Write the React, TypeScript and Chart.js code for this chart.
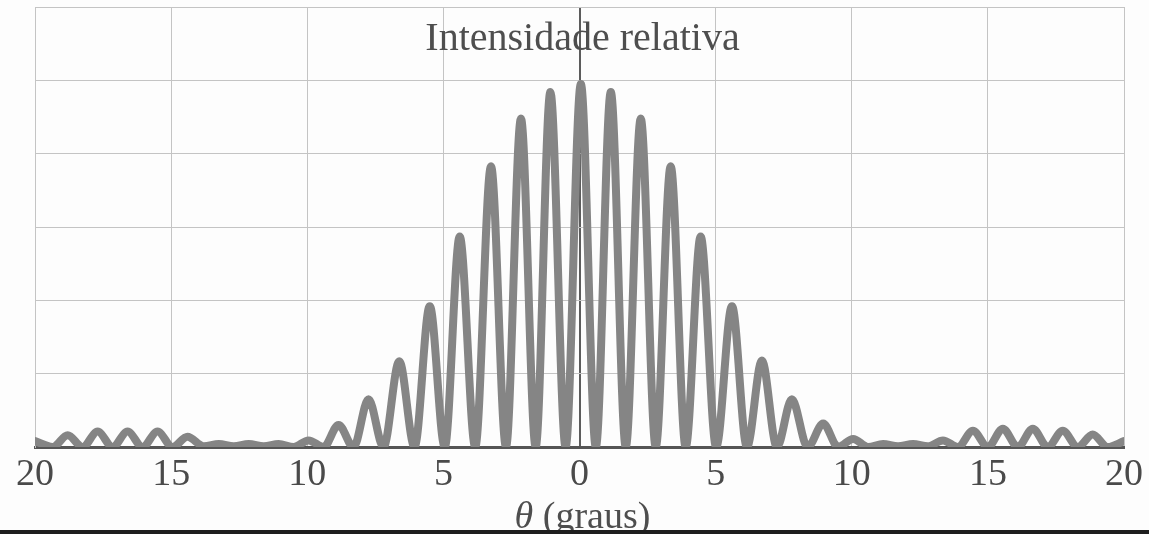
import { useEffect, useRef } from "react";
import { Chart, registerables } from "chart.js";

Chart.register(...registerables);

// Angle (degrees) and relative intensity: peaks and minima
const leftTheta = [
  -20, -19.35, -18.8, -18.25, -17.7, -17.15, -16.6, -16.05, -15.5, -14.95,
  -14.4, -13.8, -13.25, -12.7, -12.15, -11.6, -11.05, -10.5, -9.95, -9.4,
  -8.85, -8.3, -7.75, -7.2, -6.62, -6.06, -5.5, -4.95, -4.4, -3.83,
  -3.25, -2.7, -2.15, -1.61, -1.07, -0.51, 0.05,
];
const leftIntensity = [
  0.08, 0, 0.16, 0, 0.21, 0, 0.21, 0, 0.21, 0,
  0.14, 0.01, 0.04, 0.01, 0.04, 0.01, 0.04, 0, 0.09, 0,
  0.3, 0, 0.65, 0, 1.17, 0, 1.92, 0, 2.87, 0,
  3.83, 0, 4.48, 0, 4.84, 0, 4.95,
];
const rightTheta = [
  0.6, 1.15, 1.7, 2.25, 2.8, 3.35, 3.9, 4.45, 5.02, 5.6,
  6.15, 6.7, 7.25, 7.8, 8.38, 8.95, 9.5, 10.05, 10.6, 11.15,
  11.7, 12.25, 12.8, 13.35, 13.9, 14.45, 15.0, 15.55, 16.1, 16.65,
  17.2, 17.75, 18.3, 18.85, 19.4, 20,
];
const rightIntensity = [
  0, 4.84, 0, 4.48, 0, 3.83, 0, 2.87, 0, 1.92,
  0, 1.18, 0, 0.65, 0, 0.32, 0, 0.11, 0, 0.04,
  0.01, 0.04, 0.01, 0.09, 0, 0.22, 0, 0.25, 0, 0.25,
  0, 0.22, 0, 0.17, 0, 0.08,
];

const xTicks = [-20, -15, -10, -5, 0, 5, 10, 15, 20];
const yGridLevels = [0, 1, 2, 3, 4, 5, 6];

const chartTitle = "Intensidade relativa";
const axisSymbol = "θ";
const axisUnit = " (graus)";

const SERIF = '"Liberation Serif", "DejaVu Serif", serif';

export default function App() {
  const ref = useRef<HTMLCanvasElement>(null);

  useEffect(() => {
    if (!ref.current) return;
    const theta = [...leftTheta, ...rightTheta];
    const intensity = [...leftIntensity, ...rightIntensity];
    const points = theta.map((x, i) => ({ x, y: intensity[i] }));

    const overlay = {
      id: "overlay",
      afterDraw(chart: any) {
        const { ctx, chartArea } = chart;
        const xs = chart.scales.x;
        const cx = xs.getPixelForValue(0) + 3;
        ctx.save();
        ctx.fillStyle = "#4e4e4e";
        ctx.textBaseline = "alphabetic";
        ctx.textAlign = "center";
        ctx.font = `40px ${SERIF}`;
        ctx.fillText(chartTitle, cx, chartArea.top + 43);

        // axis title with italic symbol
        ctx.textAlign = "left";
        ctx.font = `italic 38px ${SERIF}`;
        const w1 = ctx.measureText(axisSymbol).width;
        ctx.font = `38px ${SERIF}`;
        const w2 = ctx.measureText(axisUnit).width;
        const start = cx - (w1 + w2) / 2;
        const base = chartArea.bottom + 81;
        ctx.font = `italic 38px ${SERIF}`;
        ctx.fillText(axisSymbol, start, base);
        ctx.font = `38px ${SERIF}`;
        ctx.fillText(axisUnit, start + w1, base);

        // dark scan edge at the bottom
        ctx.fillStyle = "#1e1e1e";
        ctx.fillRect(0, chart.height - 4, chart.width, 4);
        ctx.restore();
      },
    };

    const chart = new Chart(ref.current, {
      type: "line",
      data: {
        datasets: [
          {
            data: points,
            borderColor: "#858585",
            borderWidth: 8,
            pointRadius: 0,
            fill: false,
            cubicInterpolationMode: "monotone",
            borderJoinStyle: "round",
            borderCapStyle: "round",
          },
        ],
      },
      options: {
        animation: false,
        responsive: false,
        layout: { padding: { left: 35, right: 25, top: 7, bottom: 0 } },
        plugins: {
          legend: { display: false },
          tooltip: { enabled: false },
          title: { display: false },
        },
        scales: {
          x: {
            type: "linear",
            min: -20,
            max: 20,
            afterFit: (s: any) => {
              s.height = 87;
            },
            afterBuildTicks: (s: any) => {
              s.ticks = xTicks.map((v) => ({ value: v }));
            },
            ticks: {
              callback: (v: any) => String(Math.abs(Number(v))),
              font: { family: SERIF, size: 38 },
              color: "#4a4a4a",
              padding: 5,
              maxRotation: 0,
              autoSkip: false,
            },
            grid: {
              drawTicks: false,
              color: (c: any) => (c.tick && c.tick.value === 0 ? "#5c5c5c" : "#c4c4c4"),
              lineWidth: (c: any) => (c.tick && c.tick.value === 0 ? 2 : 1),
            },
            border: { display: true, color: "#555555", width: 3 },
          },
          y: {
            min: 0,
            max: 6,
            afterFit: (s: any) => {
              s.width = 0;
            },
            afterBuildTicks: (s: any) => {
              s.ticks = yGridLevels.map((v) => ({ value: v }));
            },
            ticks: { display: false },
            grid: { drawTicks: false, color: "#c4c4c4", lineWidth: 1 },
            border: { display: true, color: "#c4c4c4", width: 1 },
          },
        },
      },
      plugins: [overlay],
    } as any);

    return () => chart.destroy();
  }, []);

  return (
    <div
      style={{
        position: "absolute",
        left: 0,
        top: 0,
        width: 1149,
        height: 534,
        background: "#fdfdfd",
      }}
    >
      <canvas ref={ref} width={1149} height={534} />
    </div>
  );
}
